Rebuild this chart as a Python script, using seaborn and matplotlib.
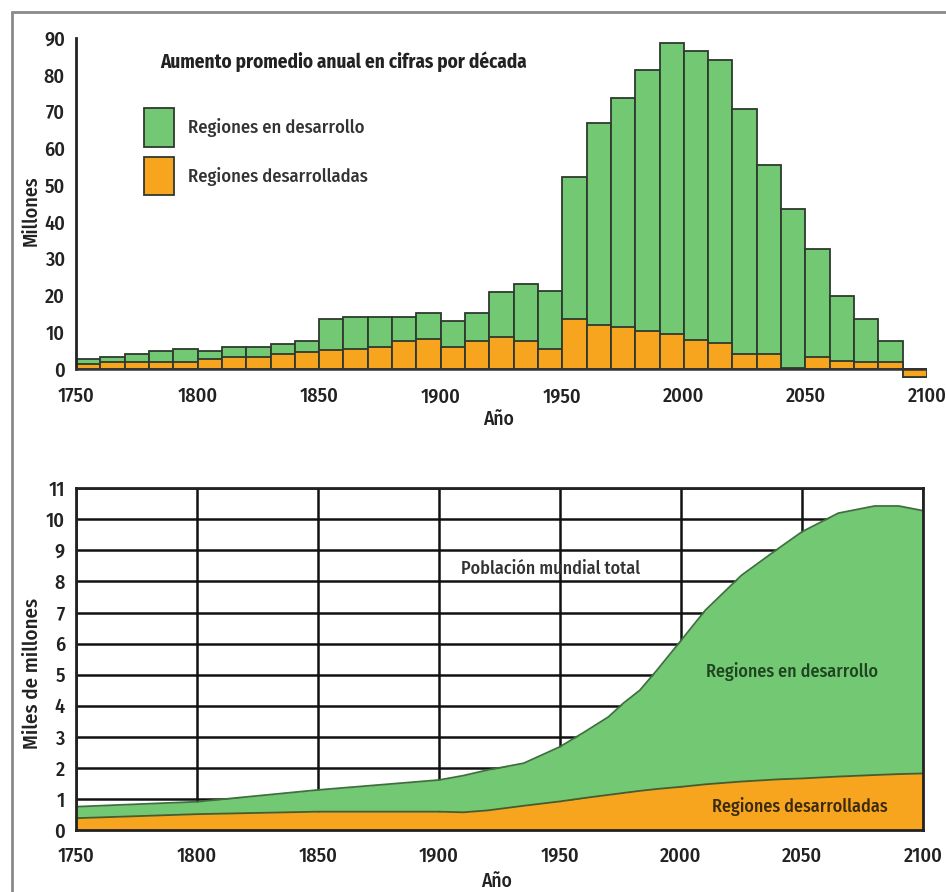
import seaborn as sns
import matplotlib.pyplot as plt
from matplotlib.patches import Patch
from matplotlib.lines import Line2D

# TOP CHART - average annual increase per decade (millions)
decades = list(range(1750, 2100, 10))
total_increase = [2.8, 3.4, 4.1, 5.0, 5.5, 4.9, 6.1, 6.1, 6.9, 7.6,
                  13.5, 14.2, 14.1, 14.2, 15.1, 13.0, 15.1, 21.0, 23.0, 21.1,
                  52.1, 66.9, 73.8, 81.2, 88.7, 86.6, 84.0, 70.6, 55.6, 43.4,
                  32.7, 19.9, 13.7, 7.6, -2.1]
developed_increase = [1.5, 1.8, 2.0, 2.0, 2.0, 2.8, 3.3, 3.2, 4.0, 4.5,
                      5.3, 5.4, 6.0, 7.6, 8.1, 6.1, 7.5, 8.7, 7.5, 5.5,
                      13.5, 11.9, 11.5, 10.3, 9.5, 8.0, 7.0, 4.1, 4.0, 0.3,
                      3.3, 2.3, 2.0, 2.0, -2.1]

# BOTTOM CHART - population (thousands of millions)
years = [1750, 1800, 1850, 1900, 1910, 1920, 1935, 1950, 1960, 1970, 1976, 1983,
         1990, 2000, 2010, 2025, 2040, 2050, 2065, 2080, 2090, 2100]
world_total = [0.75, 0.91, 1.29, 1.61, 1.75, 1.93, 2.15, 2.68, 3.15, 3.64, 4.07, 4.5,
               5.14, 6.1, 7.07, 8.2, 9.05, 9.6, 10.2, 10.43, 10.43, 10.28]
developed_pop = [0.38, 0.51, 0.59, 0.59, 0.57, 0.63, 0.78, 0.92, 1.03, 1.13, 1.19, 1.26,
                 1.32, 1.39, 1.47, 1.56, 1.63, 1.66, 1.72, 1.77, 1.8, 1.82]

x_ticks = list(range(1750, 2101, 50))
green = '#73c873'
orange = '#f7a51e'
edge = '#2e3a2e'

sns.set_style('white')
plt.rcParams['font.family'] = ['Fira Sans Condensed', 'DejaVu Sans']
plt.rcParams['font.weight'] = 500
plt.rcParams['text.color'] = '#222222'
plt.rcParams['xtick.color'] = '#222222'
plt.rcParams['ytick.color'] = '#222222'
plt.rcParams['axes.labelcolor'] = '#222222'
plt.rcParams['axes.labelweight'] = 500

fig = plt.figure(figsize=(9.46, 8.92), dpi=100)
W, H = 946, 892

def px_axes(x0, x1, ytop, ybot):
    return fig.add_axes([x0 / W, 1 - ybot / H, (x1 - x0) / W, (ybot - ytop) / H])

#Top chart
ax1 = px_axes(76, 927, 38, 378.6)
mids = [d + 5 for d in decades]
sns.barplot(x=mids, y=total_increase, native_scale=True, width=1, color=green,
            saturation=1, edgecolor=edge, linewidth=1.3, errorbar=None, ax=ax1)
sns.barplot(x=mids, y=developed_increase, native_scale=True, width=1, color=orange,
            saturation=1, edgecolor=edge, linewidth=1.3, errorbar=None, ax=ax1)
ax1.axhline(0, color='#333333', lw=1.8, zorder=5)
ax1.set_xlim(1750, 2100)
ax1.set_ylim(-2.6, 90)
ax1.set_xticks(x_ticks)
ax1.set_yticks(range(0, 91, 10))
for s in ['top', 'right', 'bottom']:
    ax1.spines[s].set_visible(False)
ax1.spines['left'].set_bounds(0, 90)
ax1.spines['left'].set_linewidth(2)
ax1.spines['left'].set_color('#222222')
ax1.tick_params(axis='y', direction='in', length=15, width=2,
                labelsize=14.5, pad=8)
ax1.tick_params(axis='x', length=0, labelsize=14.5, pad=6)
yt = ax1.yaxis.get_major_ticks()
yt[0].tick1line.set_visible(False)
yt[-1].tick1line.set_visible(False)
ax1.set_xlabel('Año', fontsize=14)
ax1.xaxis.set_label_coords(0.497, -0.092)
ax1.set_ylabel('Millones', fontsize=14.5)
ax1.yaxis.set_label_coords(-0.042, 0.492)
ax1.text(0.0987, 0.9295, 'Aumento promedio anual en cifras por década', transform=ax1.transAxes,
         fontsize=13.8, fontweight='bold', va='center')
handles = [Patch(facecolor=green, edgecolor=edge, linewidth=1.3, label='Regiones en desarrollo'),
           Patch(facecolor=orange, edgecolor=edge, linewidth=1.3, label='Regiones desarrolladas')]
ax1.legend(handles=handles, loc='upper left', bbox_to_anchor=(0.0799, 0.7945), frameon=False,
           fontsize=13.3, handlelength=1.62, handleheight=2.85, handletextpad=0.75,
           labelspacing=0.54, borderaxespad=0, borderpad=0, labelcolor='#333333')

#Bottom chart
ax2 = px_axes(76, 923, 488.3, 830)
ax2.fill_between(years, 0, developed_pop, color=orange, zorder=2, lw=0)
ax2.fill_between(years, developed_pop, world_total, color=green, zorder=2, lw=0)
sns.lineplot(x=years, y=world_total, color='#3f6f3f', lw=1.3, ax=ax2, zorder=3)
sns.lineplot(x=years, y=developed_pop, color='#4a5a2a', lw=1.3, ax=ax2, zorder=3)
ax2.set_xlim(1750, 2100)
ax2.set_ylim(0, 11)
ax2.set_xticks(x_ticks)
ax2.set_yticks(range(0, 12))
ax2.grid(True, color='#111111', lw=1.8, zorder=0)
ax2.set_axisbelow(True)
for s in ax2.spines.values():
    s.set_visible(True)
    s.set_linewidth(2)
    s.set_color('#222222')
    s.set_zorder(4)
ax2.tick_params(length=0, labelsize=14.5, pad=8)
ax2.tick_params(axis='x', pad=12)
ax2.set_xlabel('Año', fontsize=14)
ax2.xaxis.set_label_coords(0.497, -0.123)
ax2.set_ylabel('Miles de millones', fontsize=15)
ax2.yaxis.set_label_coords(-0.040, 0.457)
ax2.text(1946, 8.42, 'Población mundial total', fontsize=13, color='#333333',
         ha='center', va='center', zorder=5)
ax2.text(2046, 5.09, 'Regiones en desarrollo', fontsize=13, color='#1f4420',
         ha='center', va='center', zorder=5)
ax2.text(2049, 0.77, 'Regiones desarrolladas', fontsize=13, color='#3a2a10',
         ha='center', va='center', zorder=5)

# frame around the figure
fig.add_artist(Line2D([12 / W, 1], [1 - 12 / H, 1 - 12 / H], color='#8a8a8a', lw=2))
fig.add_artist(Line2D([12 / W, 12 / W], [0, 1 - 12 / H], color='#8a8a8a', lw=2))

fig.savefig('out.png', dpi=100)
